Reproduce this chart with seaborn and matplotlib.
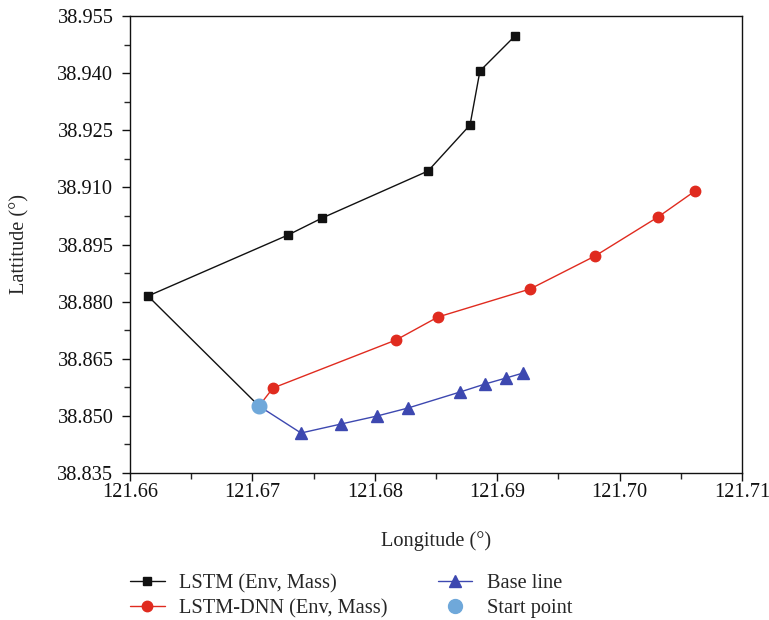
import matplotlib
matplotlib.use("Agg")
import matplotlib.pyplot as plt
from matplotlib.lines import Line2D
from matplotlib.ticker import MultipleLocator
import seaborn as sns
import numpy as np

# Data (longitude, latitude)
start_lon = [121.67054]
start_lat = [38.85258]

lstm_lon = [121.66147, 121.67291, 121.67569, 121.68435, 121.68778, 121.68859, 121.69145]
lstm_lat = [38.88147, 38.89749, 38.90195, 38.91430, 38.92638, 38.94056, 38.94975]

dnn_lon = [121.67168, 121.68173, 121.68516, 121.69268, 121.69799, 121.70314, 121.70616]
dnn_lat = [38.85731, 38.86992, 38.87596, 38.88331, 38.89197, 38.90222, 38.90904]

base_lon = [121.67397, 121.67724, 121.68018, 121.68271, 121.68696, 121.68900, 121.69072, 121.69211]
base_lat = [38.84550, 38.84786, 38.84996, 38.85206, 38.85626, 38.85836, 38.85994, 38.86125]

labels = ["LSTM (Env, Mass)", "LSTM-DNN (Env, Mass)", "Base line", "Start point"]
x_ticks = [121.66, 121.67, 121.68, 121.69, 121.70, 121.71]
y_ticks = [38.835, 38.850, 38.865, 38.880, 38.895, 38.910, 38.925, 38.940, 38.955]

sns.set_style("ticks")
plt.rcParams["font.family"] = ["Liberation Serif", "DejaVu Serif"]

fig = plt.figure(figsize=(7.69, 6.2), dpi=100)
ax = fig.add_axes([130 / 769, 1 - 473 / 620, (742 - 130) / 769, (473 - 16) / 620])

c_black = "#111111"
c_red = "#e02b1f"
c_blue = "#3d48b0"
c_start = "#6fa8da"
FS = 14.7

series = [
    (lstm_lon, lstm_lat, c_black, "s", 6.2),
    (dnn_lon, dnn_lat, c_red, "o", 7.5),
    (base_lon, base_lat, c_blue, "^", 8.5),
]
for lon, lat, col, mk, ms in series:
    xs = start_lon + lon
    ys = start_lat + lat
    sns.lineplot(x=xs, y=ys, sort=False, estimator=None, color=col, lw=1.0, ax=ax)
    ax.plot(lon, lat, linestyle="none", marker=mk, markersize=ms, color=col,
            markeredgecolor=col, zorder=3)

ax.plot(start_lon, start_lat, linestyle="none", marker="o", markersize=10.5,
        color=c_start, markeredgecolor=c_start, zorder=4)

ax.set_xlim(121.66, 121.71)
ax.set_ylim(38.835, 38.955)
ax.set_xticks(x_ticks)
ax.set_xticklabels([f"{v:.2f}" for v in x_ticks])
ax.set_yticks(y_ticks)
ax.set_yticklabels([f"{v:.3f}" for v in y_ticks])
ax.xaxis.set_minor_locator(MultipleLocator(0.005))
ax.yaxis.set_minor_locator(MultipleLocator(0.0075))
ax.tick_params(axis="both", which="major", direction="out", length=6, width=1.0,
               labelsize=FS, colors="#111111")
ax.tick_params(axis="x", which="major", pad=1.5)
ax.tick_params(axis="y", which="major", pad=6)
ax.tick_params(axis="both", which="minor", direction="out", length=4, width=1.0)
ax.tick_params(top=False, right=False, which="both")
for sp in ax.spines.values():
    sp.set_linewidth(1.0)
    sp.set_color("#111111")
    sp.set_visible(True)

ax.set_xlabel("Longitude (°)", fontsize=FS)
ax.set_ylabel("Lattitude (°)", fontsize=FS)
ax.xaxis.label.set_va("center")
ax.yaxis.label.set_va("center")
ax.xaxis.set_label_coords(0.5, -(541 - 473) / 457)
ax.yaxis.set_label_coords(-(130 - 20) / 612, 0.5)

handles = [
    Line2D([], [], color=c_black, marker="s", markersize=6.2, lw=1.0),
    Line2D([], [], color=c_red, marker="o", markersize=7.5, lw=1.0),
    Line2D([], [], color=c_blue, marker="^", markersize=8.5, lw=1.0),
    Line2D([], [], color=c_start, marker="o", markersize=10, lw=0),
]
fig.legend(handles, labels, loc="lower left", bbox_to_anchor=(130 / 769, 2 / 620),
           ncol=2, frameon=False, fontsize=FS, handlelength=1.7,
           columnspacing=2.45, labelspacing=0.27, handletextpad=0.7, borderpad=0,
           borderaxespad=0)

fig.savefig("out.png", dpi=100)
